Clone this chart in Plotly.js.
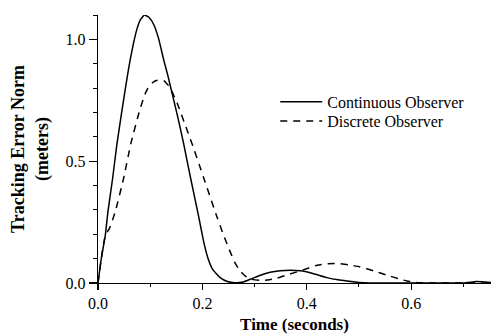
<!DOCTYPE html>
<html>
<head>
<meta charset="utf-8">
<script src="https://cdn.plot.ly/plotly-3.0.1.min.js"></script>
<style>html,body{margin:0;padding:0;background:#fff;}#chart{width:491px;height:334px;}</style>
</head>
<body>
<div id="chart"></div>
<script>
// Continuous observer
const contTime = [0, 0.0063, 0.014, 0.019, 0.028, 0.036, 0.046, 0.056, 0.062, 0.068, 0.075, 0.081, 0.089, 0.098, 0.107, 0.116, 0.126, 0.134, 0.142, 0.153, 0.164, 0.177, 0.193, 0.203, 0.211, 0.220, 0.234, 0.248, 0.262, 0.278, 0.295, 0.311, 0.330, 0.349, 0.368, 0.388, 0.410, 0.439, 0.460, 0.477, 0.500, 0.520, 0.600, 0.700, 0.725, 0.735, 0.753];
const contErr  = [0, 0.10, 0.196, 0.292, 0.429, 0.566, 0.71, 0.846, 0.92, 0.984, 1.045, 1.08, 1.10, 1.09, 1.06, 1.004, 0.915, 0.85, 0.778, 0.68, 0.573, 0.435, 0.271, 0.165, 0.10, 0.055, 0.022, 0.006, 0.001, 0.004, 0.018, 0.032, 0.044, 0.050, 0.052, 0.050, 0.040, 0.022, 0.013, 0.008, 0.002, 0, 0, 0, 0.006, 0.005, 0.002];
// Discrete observer
const discTime = [0, 0.0063, 0.014, 0.0217, 0.033, 0.049, 0.063, 0.080, 0.090, 0.097, 0.105, 0.112, 0.119, 0.126, 0.137, 0.152, 0.166, 0.180, 0.202, 0.228, 0.240, 0.252, 0.262, 0.272, 0.283, 0.295, 0.310, 0.325, 0.343, 0.365, 0.388, 0.420, 0.440, 0.458, 0.480, 0.502, 0.528, 0.554, 0.575, 0.592, 0.610, 0.630, 0.753];
const discErr  = [0, 0.10, 0.196, 0.223, 0.292, 0.429, 0.573, 0.71, 0.775, 0.805, 0.823, 0.831, 0.833, 0.831, 0.805, 0.737, 0.655, 0.573, 0.435, 0.271, 0.20, 0.135, 0.085, 0.05, 0.027, 0.015, 0.011, 0.012, 0.02, 0.035, 0.05, 0.073, 0.079, 0.080, 0.075, 0.066, 0.05, 0.032, 0.018, 0.008, 0.002, 0, 0];

const seriesNames = ["Continuous Observer", "Discrete Observer"];
const xTickVals = [0, 0.2, 0.4, 0.6];
const xTickText = ["0.0", "0.2", "0.4", "0.6"];
const yTickVals = [0, 0.5, 1.0];
const yTickText = ["0.0", "0.5", "1.0"];

const serif = "Liberation Serif, Times New Roman, serif";

const traces = [
  {x: contTime, y: contErr, name: seriesNames[0], type: "scatter", mode: "lines", legend: "legend",
   line: {color: "#000", width: 1.5, shape: "spline", smoothing: 0.4}},
  {x: discTime, y: discErr, name: seriesNames[1], type: "scatter", mode: "lines", legend: "legend2",
   line: {color: "#000", width: 1.5, dash: "7px,6px", shape: "spline", smoothing: 0.4}}
];

const legendBase = {xanchor: "left", yanchor: "top", bgcolor: "rgba(0,0,0,0)", itemwidth: 42,
                    font: {family: serif, size: 16, color: "#000"}};

const layout = {
  width: 491, height: 334,
  margin: {l: 98, r: 0, t: 15, b: 51},
  paper_bgcolor: "#fff", plot_bgcolor: "#fff",
  font: {family: serif, color: "#000", size: 16},
  showlegend: true,
  legend: Object.assign({x: 0.451, y: 0.739}, legendBase),
  legend2: Object.assign({x: 0.451, y: 0.668}, legendBase),
  xaxis: {
    range: [0, 0.753], showgrid: false, zeroline: false, showline: true, linecolor: "#000", linewidth: 1.2,
    tickmode: "array", tickvals: xTickVals, ticktext: xTickText,
    ticks: "outside", ticklen: 6, tickwidth: 1.2, tickcolor: "#000",
    minor: {dtick: 0.1, tick0: 0, ticks: "outside", ticklen: 3, tickwidth: 1, tickcolor: "#000", showgrid: false},
    tickfont: {family: serif, size: 16, color: "#000"},
    title: {text: "<b>Time (seconds)</b>", font: {family: serif, size: 17, color: "#000"}, standoff: 6}
  },
  yaxis: {
    range: [0, 1.1], showgrid: false, zeroline: false, showline: true, linecolor: "#000", linewidth: 1.2,
    tickmode: "array", tickvals: yTickVals, ticktext: yTickText,
    ticks: "outside", ticklen: 8, tickwidth: 1.2, tickcolor: "#000",
    minor: {dtick: 0.1, tick0: 0, ticks: "outside", ticklen: 4, tickwidth: 1, tickcolor: "#000", showgrid: false},
    tickfont: {family: serif, size: 16, color: "#000"},
    title: {text: "<b>Tracking Error Norm<br>(meters)</b>", font: {family: serif, size: 18, color: "#000"}, standoff: 12}
  }
};

Plotly.newPlot("chart", traces, layout, {staticPlot: true, displayModeBar: false});
</script>
</body>
</html>
